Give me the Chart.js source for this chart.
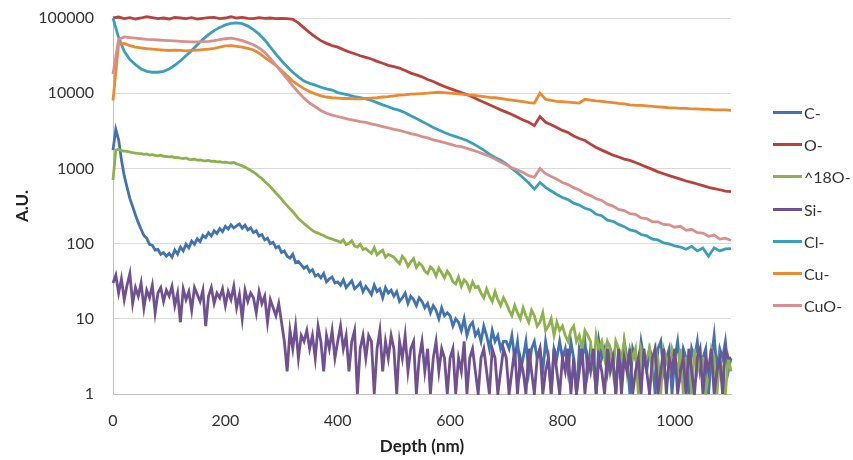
<!DOCTYPE html>
<html>
<head>
<meta charset="utf-8">
<script src="https://cdn.jsdelivr.net/npm/chart.js@4"></script>
<style>
  body { margin: 0; background: #fff; }
  #wrap { position: relative; width: 853px; height: 460px; }
  #legend { position: absolute; left: 773px; top: 96px; font-family: Lato, sans-serif; font-size: 16px; color: #333; }
  .leg-row { display: flex; align-items: center; height: 32.3px; }
  .leg-line { width: 29px; height: 3px; margin-right: 2px; }
</style>
</head>
<body>
<div id="wrap">
  <canvas id="sims" width="853" height="460"></canvas>
  <div id="legend"></div>
</div>
<script>
// species shown in the depth profile
const seriesNames = ['C-', 'O-', '^18O-', 'Si-', 'Cl-', 'Cu-', 'CuO-'];
const seriesColors = ['#4372b0', '#b7423e', '#8db14b', '#6f5191', '#3c9fb9', '#ea8a31', '#d8908e'];

const xTicks = [0, 200, 400, 600, 800, 1000];
const yTicks = [1, 10, 100, 1000, 10000, 100000];

// depth grids (nm): coarse every 10 nm, fine every 5 nm
const depthCoarse = Array.from({ length: 111 }, (_, i) => i * 10);
const depthFine = Array.from({ length: 221 }, (_, i) => i * 5);

// --- coarse series (10 nm) ---
const oMinus = [
  100000,103000,98000,101000,97000,100000,104000,101000,98000,100000,
  97000,102000,100000,98000,101000,97000,99000,101000,102000,98000,
  100000,104000,100000,102000,99000,98000,101000,99000,100000,98000,
  99000,98000,96000,86000,74000,64000,56000,50000,46000,43000,
  41000,38000,35500,33500,31500,30000,28500,26500,25000,23500,
  22500,21500,20000,18500,17500,16500,15200,14300,13200,12300,
  11500,10800,10200,9600,8900,8200,7600,7000,6500,6000,
  5600,5200,4800,4400,4100,3700,4900,4100,3800,3500,
  3200,3000,2700,2500,2350,2100,1900,1750,1620,1500,
  1420,1330,1280,1200,1120,1040,970,900,850,800,
  760,720,680,650,620,590,560,540,520,500,
  490
];
const cuMinus = [
  8000,45000,46000,43000,41000,40000,39000,38500,38000,37500,
  37000,37500,37000,36500,37000,37500,38000,38500,39500,41000,
  42500,43000,42000,41000,39500,37500,34000,30000,26500,23500,
  20000,17000,14500,12800,11500,10500,9800,9200,8900,8700,
  8600,8500,8500,8400,8400,8500,8600,8700,8900,9000,
  9200,9400,9500,9700,9800,9900,10000,10200,10300,10200,
  10000,9900,9700,9500,9400,9200,9000,8800,8700,8500,
  8300,8100,7900,7700,7500,7400,10000,8300,8000,7800,
  7700,7600,7500,7400,8300,8100,7900,7800,7600,7500,
  7300,7200,7000,6900,6900,6800,6700,6600,6500,6400,
  6400,6300,6300,6200,6200,6100,6100,6000,6000,6000,
  5900
];
const clMinus = [
  100000,55000,36000,28000,24000,21000,19500,19000,19000,19500,
  21000,23500,27000,31500,37000,44000,52000,60000,68000,75000,
  81000,85000,86000,84000,78000,70000,61000,51000,41000,33000,
  27000,22500,19000,16500,14500,13500,12800,12000,11400,11000,
  10200,9800,9400,9000,8700,8400,8000,7500,7000,6600,
  6200,5900,5500,5000,4600,4200,3850,3500,3250,3000,
  2800,2650,2500,2350,2150,1950,1750,1550,1400,1280,
  1150,1000,870,750,640,530,650,560,500,450,
  410,385,345,325,295,280,245,235,205,198,
  180,168,152,147,132,127,115,112,102,99,
  93,90,84,92,80,87,68,88,80,85,
  86
];
const cuoMinus = [
  18000,52000,56000,55000,54000,53000,52000,51500,51000,50500,
  50000,49500,49000,48500,48000,48000,48500,49000,50000,51500,
  53000,54000,52500,50000,47000,44000,40000,35000,29000,23500,
  19000,15500,12500,10300,8600,7400,6600,5900,5400,5100,
  4900,4700,4500,4350,4200,4100,3900,3750,3600,3450,
  3300,3200,3050,2900,2800,2650,2550,2400,2300,2200,
  2100,2000,1950,1850,1750,1650,1550,1450,1330,1220,
  1120,1020,950,880,800,760,1000,850,780,720,
  650,610,555,515,465,435,395,375,335,315,
  285,275,250,245,220,215,195,195,180,178,
  165,170,150,155,140,138,125,130,115,118,
  110
];

// --- fine series (5 nm) ---
const cMinus = [
  1750,3300,2400,1300,800,560,400,310,240,190,
  155,128,118,98,95,82,84,72,76,68,
  74,66,82,72,90,80,98,88,108,98,
  116,106,128,120,140,126,148,136,158,144,
  170,156,178,162,172,182,160,176,152,162,
  140,148,126,132,112,118,100,104,88,92,
  76,80,68,64,72,56,58,52,47,50,
  42,45,37,39,35,40,31,34,36,30,
  31,28,33,26,29,32,25,27,30,23,
  27,24,21,28,23,25,19,26,22,24,
  20,23,17,19,22,16,20,18,15,19,
  17,14,16,12,15,13,10,14,11,12,
  11,8,10,9,7,10,6,8,9,6,
  7,5,8,6,4,7,5,6,4,5,
  5,4,6,3,5,2,3,5,2,4,
  5,3,4,2,5,3,1,4,3,5,
  3,4,2,5,3,1,4,3,5,2,
  4,3,1,5,3,4,2,4,3,1,
  4,2,5,3,1,4,3,2,5,3,
  2,4,3,1,4,5,2,3,4,1,
  3,5,2,4,3,1,4,3,5,2,
  3,4,1,3,6,2,4,3,5,2,
  3
];
const o18Minus = [
  700,1750,1800,1720,1700,1680,1650,1620,1600,1580,
  1570,1540,1560,1500,1520,1490,1470,1500,1450,1440,
  1420,1430,1390,1400,1370,1350,1380,1320,1310,1330,
  1290,1300,1270,1260,1280,1240,1250,1220,1230,1200,
  1210,1190,1180,1200,1150,1120,1080,1040,990,940,
  890,840,780,730,670,620,570,520,470,430,
  390,350,320,290,265,240,215,200,185,172,
  160,150,142,138,132,128,122,118,115,111,
  108,104,112,97,101,109,93,90,98,84,
  86,79,74,88,71,77,82,66,72,69,
  66,59,54,68,61,50,57,63,48,55,
  51,43,40,49,45,37,47,41,35,43,
  38,31,29,36,27,33,30,24,31,26,
  27,22,19,25,20,17,23,18,15,19,
  16,13,11,15,12,10,14,11,9,13,
  11,8,9,12,7,8,10,6,9,7,
  8,6,5,7,8,5,6,4,7,6,
  5,2,6,4,5,3,5,4,2,5,
  4,3,5,2,4,3,4,1,4,3,
  3,4,2,4,3,1,4,3,2,4,
  3,2,4,1,3,3,1,4,2,3,
  3,1,2,4,3,1,3,2,1,3,
  2
];
const siMinus = [
  30,38,22,34,18,28,40,16,26,20,
  30,14,24,19,28,12,22,26,17,24,
  20,27,15,22,9,25,18,23,13,26,
  21,17,24,8,20,26,16,22,19,25,
  15,23,18,27,14,21,10,24,17,22,
  19,12,23,16,20,9,18,14,11,16,
  9,5,2,7,4,8,3,6,5,7,
  4,6,3,8,5,2,6,4,7,3,
  5,8,4,6,2,5,7,1,4,6,
  3,6,5,1,4,7,2,5,3,6,
  4,1,5,3,6,2,4,5,1,3,
  5,2,4,1,3,5,2,4,3,1,
  3,4,1,3,2,5,1,3,4,2,
  1,3,4,2,1,4,3,1,2,4,
  3,1,2,4,1,3,2,1,4,2,
  1,3,4,1,2,3,1,4,2,1,
  3,2,4,1,3,1,2,4,1,3,
  2,4,1,3,2,1,4,2,3,1,
  4,1,3,2,4,1,2,3,1,4,
  2,1,3,4,1,2,4,1,3,2,
  4,1,2,3,1,4,2,1,3,4,
  1,3,2,4,1,2,3,1,4,3,
  3
];

const seriesValues = [cMinus, oMinus, o18Minus, siMinus, clMinus, cuMinus, cuoMinus];
const seriesDepths = [depthFine, depthCoarse, depthFine, depthFine, depthCoarse, depthCoarse, depthCoarse];

const datasets = seriesNames.map((name, i) => ({
  label: name,
  data: seriesValues[i].map((v, j) => ({ x: seriesDepths[i][j], y: v })),
  borderColor: seriesColors[i],
  backgroundColor: seriesColors[i],
  borderWidth: 2.8,
  pointRadius: 0,
  tension: 0,
  fill: false,
  clip: { left: 2, top: 6, right: 2, bottom: 1 },
  order: -i // later series on top, like the original
}));

const tickFont = { family: 'Lato', size: 16 };
const titleFont = { family: 'Lato', size: 17, weight: 'bold' };

new Chart(document.getElementById('sims').getContext('2d'), {
  type: 'line',
  data: { datasets },
  options: {
    responsive: false,
    animation: false,
    layout: { padding: { top: 18, right: 122, bottom: 0, left: 0 } },
    plugins: { legend: { display: false }, tooltip: { enabled: false } },
    scales: {
      x: {
        type: 'linear',
        min: 0,
        max: 1100,
        afterBuildTicks: s => { s.ticks = xTicks.map(v => ({ value: v })); },
        afterFit: s => { s.height = 66; },
        grid: { display: false, drawTicks: false },
        border: { color: '#bfbfbf', width: 1 },
        ticks: { font: tickFont, color: '#333', padding: 17, maxRotation: 0, callback: v => String(v) },
        title: { display: true, text: 'Depth (nm)', font: titleFont, color: '#222', padding: { top: 0, bottom: 3 } }
      },
      y: {
        type: 'logarithmic',
        min: 1,
        max: 100000,
        afterBuildTicks: s => { s.ticks = yTicks.map(v => ({ value: v })); },
        // fixed width; drop the label padding so the plot top sits at 18px
        afterFit: s => { s.width = 113; s.paddingTop = 0; s.paddingBottom = 0; },
        grid: { color: '#d9d9d9', drawTicks: false },
        border: { color: '#bfbfbf', width: 1 },
        ticks: { font: tickFont, color: '#333', padding: 19, callback: v => String(v) },
        title: { display: true, text: 'A.U.', font: titleFont, color: '#222', padding: { top: 12, bottom: 0 } }
      }
    }
  }
});

// legend on the right, series order as in the original
const legend = document.getElementById('legend');
seriesNames.forEach((name, i) => {
  const row = document.createElement('div');
  row.className = 'leg-row';
  row.innerHTML = `<span class="leg-line" style="background:${seriesColors[i]}"></span><span>${name}</span>`;
  legend.appendChild(row);
});
</script>
</body>
</html>
